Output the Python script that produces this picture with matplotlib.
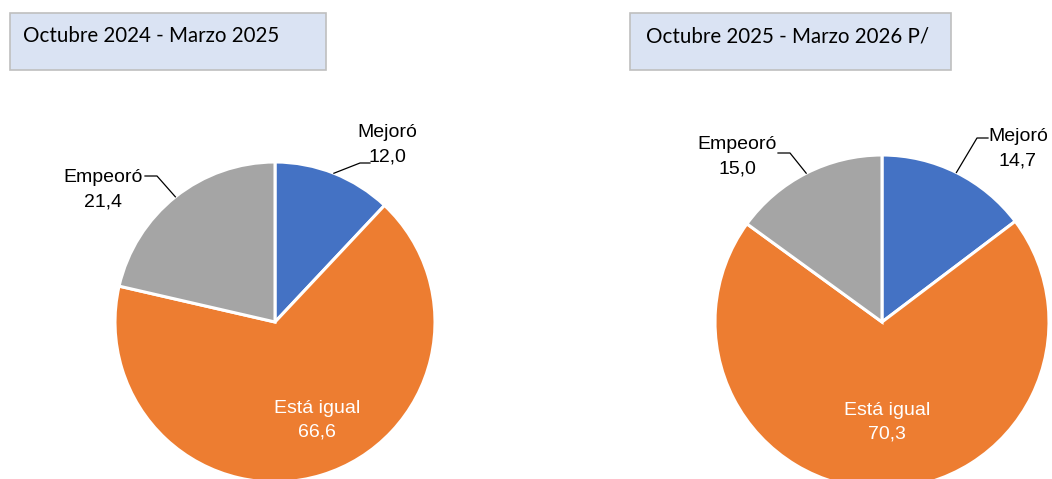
import numpy as np
import matplotlib
matplotlib.use("Agg")
import matplotlib.pyplot as plt
from matplotlib.patches import Rectangle

# ---- data ----
categories = ["Mejoró", "Está igual", "Empeoró"]
values_2024_2025 = [12.0, 66.6, 21.4]
values_2025_2026 = [14.7, 70.3, 15.0]
titles = ["Octubre 2024 - Marzo 2025", "Octubre 2025 - Marzo 2026 P/"]
colors = ["#4472C4", "#ED7D31", "#A5A5A5"]

W, H = 1052, 479
fig = plt.figure(figsize=(W / 100, H / 100), dpi=100)
ax = fig.add_axes([0, 0, 1, 1])
ax.set_xlim(0, W)
ax.set_ylim(0, H)
ax.set_aspect("equal")
ax.axis("off")

def Y(y):
    return H - y

def fmt(v):
    return f"{v:.1f}".replace(".", ",")

label_font = dict(family=["Liberation Sans", "DejaVu Sans"], fontsize=14)

# layout per pie: center, radius, title box, label block centers and elbows
layouts = [
    dict(center=(275, 322), r=160, box=(10, 13, 316, 57), title_x=23,
         lab={0: ((387, 145), (360, 163), (370, 163)),
              2: ((103, 190), (157, 176), (145, 176)),
              1: (317, 420)}),
    dict(center=(882, 322), r=167, box=(630, 13, 321, 57), title_x=646,
         lab={0: ((1018, 149), (977, 138), (988, 138)),
              2: ((737, 157), (790, 153), (778, 153)),
              1: (887, 422)}),
]

for vals, title, lay in zip([values_2024_2025, values_2025_2026], titles, layouts):
    cx, cy = lay["center"]
    r = lay["r"]
    wedges, _ = ax.pie(vals, colors=colors, startangle=90, counterclock=False,
                       center=(cx, Y(cy)), radius=r, frame=True,
                       wedgeprops=dict(edgecolor="white", linewidth=2.2))
    # title box
    bx, by, bw, bh = lay["box"]
    ax.add_patch(Rectangle((bx, Y(by + bh)), bw, bh, facecolor="#DAE3F3",
                           edgecolor="#BFBFBF", linewidth=1.2, zorder=5))
    ax.text(lay["title_x"], Y(36), title, ha="left", va="center",
            fontsize=14.8, family=["Lato", "DejaVu Sans"], color="#000000", zorder=6)
    for i, w in enumerate(wedges):
        text = f"{categories[i]}\n{fmt(vals[i])}"
        if i == 1:
            tx, ty = lay["lab"][1]
            ax.text(tx, Y(ty), text, ha="center", va="center", color="white",
                    linespacing=1.5, **label_font)
        else:
            (tx, ty), elbow, end = lay["lab"][i]
            mid = np.deg2rad((w.theta1 + w.theta2) / 2)
            ex = cx + r * np.cos(mid)
            ey = Y(cy) + r * np.sin(mid)
            ax.plot([ex, elbow[0], end[0]], [ey, Y(elbow[1]), Y(end[1])],
                    color="black", linewidth=0.9, zorder=4)
            ax.text(tx, Y(ty), text, ha="center", va="center", color="#000000",
                    linespacing=1.55, **label_font)

ax.set_xlim(0, W)
ax.set_ylim(0, H)
ax.axis("off")
fig.savefig("out.png", dpi=100)
